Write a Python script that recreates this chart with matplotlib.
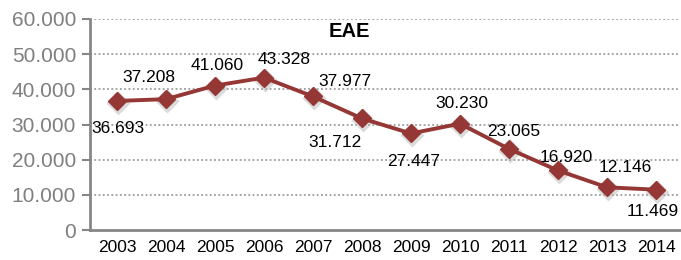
import matplotlib
matplotlib.use("Agg")
import matplotlib.pyplot as plt
import matplotlib.transforms as mtransforms
import numpy as np

plt.rcParams['font.family'] = ['Liberation Sans', 'DejaVu Sans']

years = ['2003', '2004', '2005', '2006', '2007', '2008',
         '2009', '2010', '2011', '2012', '2013', '2014']
eae = [36693, 37208, 41060, 43328, 37977, 31712,
       27447, 30230, 23065, 16920, 12146, 11469]
labels = ['36.693', '37.208', '41.060', '43.328', '37.977', '31.712',
          '27.447', '30.230', '23.065', '16.920', '12.146', '11.469']
yticks = [0, 10000, 20000, 30000, 40000, 50000, 60000]
ytick_labels = ['0', '10.000', '20.000', '30.000', '40.000', '50.000', '60.000']

# label offsets in pixels (dx, dy), positive dy is up
offsets = [(1, -28), (-17, 22), (2, 20), (20, 18), (32, 15), (-27, -24),
           (3, -28), (2, 20), (5, 17), (8, 13), (18, 20), (-3, -22)]

fig = plt.figure(figsize=(6.81, 2.60), dpi=100)
ax = fig.add_axes([90 / 681, 30 / 260, 590 / 681, 211 / 260])

x = np.arange(len(years))

# soft shadow under the markers
shadow = ax.transData + mtransforms.ScaledTranslation(1 / 100, -2 / 100, fig.dpi_scale_trans)
ax.plot(x, eae, ls='none', marker='D', ms=12, mfc='#b0b0b0', mec='none',
        alpha=0.45, transform=shadow, zorder=2)

ax.plot(x, eae, color='#953735', lw=2.8, marker='D', ms=9.5,
        mec='#953735', mfc='#953735', zorder=3)

for xi, v, lab, (dx, dy) in zip(x, eae, labels, offsets):
    ax.annotate(lab, (xi, v), xytext=(dx, dy), textcoords='offset pixels',
                ha='center', va='center', fontsize=12.5, color='black', zorder=4)

ax.set_xlim(-0.55, 11.49)
ax.set_ylim(0, 60000)
ax.set_xticks(x)
ax.set_xticklabels(years, fontsize=12.5, color='black')
ax.set_yticks(yticks)
ax.set_yticklabels(ytick_labels, fontsize=15, color='#7f7f7f')
ax.tick_params(axis='x', length=0, pad=7)
ax.tick_params(axis='y', length=6, width=1.5, color='#868686', direction='out', pad=4)

for v in yticks[1:]:
    ax.axhline(v, color='#8c8c8c', lw=1.1, ls=(0, (1.2, 1.6)), zorder=1)

for s in ['top', 'right']:
    ax.spines[s].set_visible(False)
ax.spines['left'].set_color('#868686')
ax.spines['left'].set_linewidth(2)
ax.spines['bottom'].set_color('#868686')
ax.spines['bottom'].set_linewidth(2)

ax.text(0.439, 0.943, 'EAE', transform=ax.transAxes, ha='center', va='center',
        fontsize=14.5, fontweight='bold', color='black')

fig.savefig('out.png', dpi=100)
